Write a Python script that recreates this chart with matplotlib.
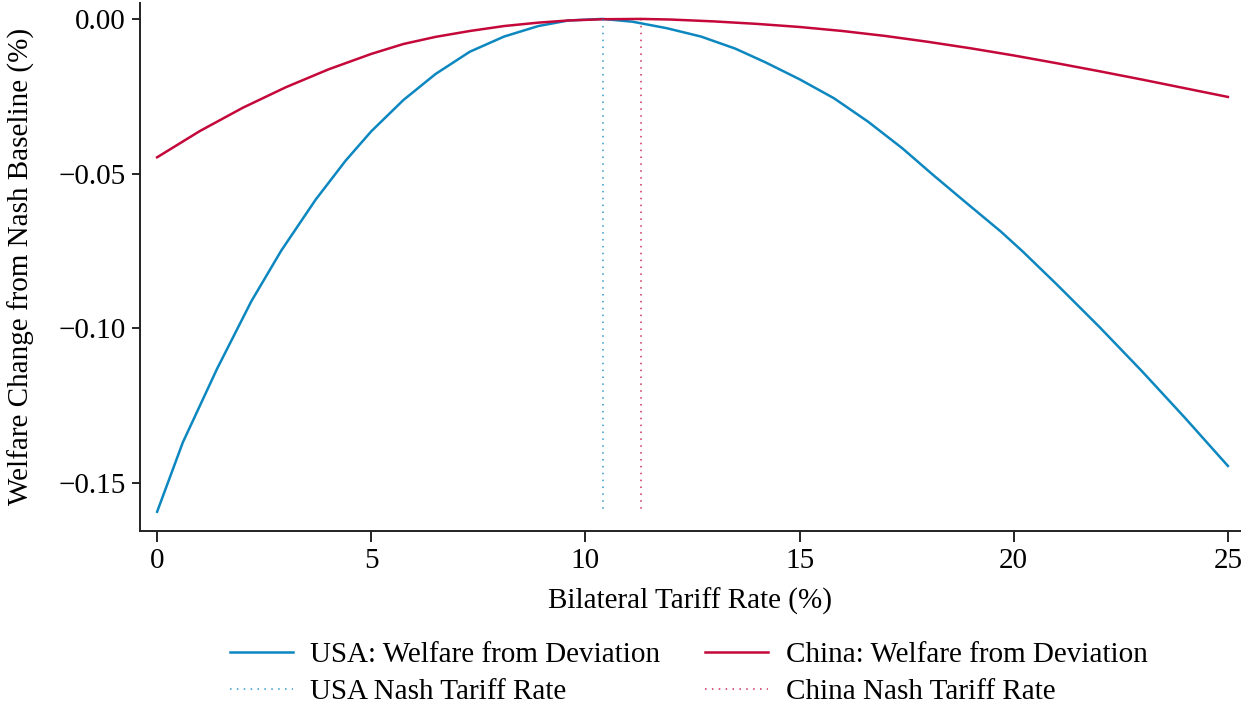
#! /usr/bin/env python3
"""
Welfare change from the Nash baseline when one country deviates
from the bilateral tariff rate (USA vs China).
"""
import matplotlib
matplotlib.use("Agg")
import matplotlib.pyplot as plt

# ---------------------------------------------------------------------------
# data

usa_tariff = [0.0, 0.6, 1.4, 2.2, 2.9, 3.7, 4.4, 5.0, 5.75, 6.5, 7.3, 8.1,
              8.9, 9.6, 10.4, 11.1, 11.9, 12.7, 13.5, 14.2, 15.0, 15.8,
              16.6, 17.4, 18.1, 18.9, 19.7, 20.2, 21.0, 22.0, 23.0, 24.0,
              25.0]
usa_welfare = [-0.1592, -0.1368, -0.1130, -0.0912, -0.0748, -0.0584,
               -0.0458, -0.0363, -0.0262, -0.0178, -0.0106, -0.0057,
               -0.0023, -0.0005, 0.0, -0.0009, -0.0030, -0.0057, -0.0096,
               -0.0140, -0.0195, -0.0256, -0.0332, -0.0418, -0.0502,
               -0.0595, -0.0687, -0.0750, -0.0857, -0.0995, -0.1139,
               -0.1289, -0.1444]

china_tariff = [0.0, 1.0, 2.0, 3.0, 4.0, 5.0, 5.75, 6.5, 7.3, 8.1, 8.9,
                9.6, 10.4, 11.3, 12.0, 13.0, 14.0, 15.0, 16.0, 17.0, 18.0,
                19.0, 20.0, 21.0, 22.0, 23.0, 24.0, 25.0]
china_welfare = [-0.0447, -0.0362, -0.0287, -0.0221, -0.0163, -0.0113,
                 -0.0081, -0.0058, -0.0039, -0.0023, -0.0012, -0.0005,
                 -0.0001, 0.0, -0.0002, -0.0008, -0.0016, -0.0026,
                 -0.0039, -0.0055, -0.0074, -0.0095, -0.0118, -0.0143,
                 -0.0169, -0.0196, -0.0224, -0.0252]

usa_nash = 10.4
china_nash = 11.3
nash_line_bottom = -0.159

x_ticks = [0, 5, 10, 15, 20, 25]
y_ticks = [0.0, -0.05, -0.10, -0.15]
y_tick_labels = ["0.00", "\u22120.05", "\u22120.10", "\u22120.15"]

labels = ["USA: Welfare from Deviation", "USA Nash Tariff Rate",
          "China: Welfare from Deviation", "China Nash Tariff Rate"]

USA_BLUE = "#0c87bf"
CHINA_RED = "#c4083a"

# ---------------------------------------------------------------------------
plt.rcParams["font.family"] = ["Liberation Serif", "DejaVu Serif"]
plt.rcParams["font.size"] = 21

fig = plt.figure(figsize=(12.41, 7.07), dpi=100)
ax = fig.add_axes([0.1128, 0.249, 0.887, 0.747])

usa_line, = ax.plot(usa_tariff, usa_welfare, color=USA_BLUE, lw=1.8,
                    solid_joinstyle="round")
china_line, = ax.plot(china_tariff, china_welfare, color=CHINA_RED, lw=1.8,
                      solid_joinstyle="round")

# nash tariff markers
usa_vline, = ax.plot([usa_nash, usa_nash], [0.0, nash_line_bottom],
                     color=USA_BLUE, lw=1.1, ls=(0, (1, 3.5)), alpha=0.85)
china_vline, = ax.plot([china_nash, china_nash], [0.0, nash_line_bottom],
                       color=CHINA_RED, lw=1.1, ls=(0, (1, 3.5)), alpha=0.85)

ax.set_xlim(-0.4, 25.3)
ax.set_ylim(-0.1654, 0.0052)

ax.set_xticks(x_ticks)
ax.set_yticks(y_ticks)
ax.set_yticklabels(y_tick_labels)

ax.spines["top"].set_visible(False)
ax.spines["right"].set_visible(False)
for side in ("left", "bottom"):
    ax.spines[side].set_linewidth(1.4)
    ax.spines[side].set_color("#222222")

ax.tick_params(axis="x", length=8, width=1.2, pad=4)
ax.tick_params(axis="y", length=6, width=1.2, pad=4)

ax.set_xlabel("Bilateral Tariff Rate (%)", labelpad=10)
ax.set_ylabel("Welfare Change from Nash Baseline (%)", labelpad=17)

fig.legend([usa_line, usa_vline, china_line, china_vline], labels,
           loc="upper center", bbox_to_anchor=(0.555, 0.13), ncol=2,
           frameon=False, handlelength=2.15, handletextpad=0.6,
           columnspacing=1.55, labelspacing=0.38)

fig.savefig("out.png", dpi=100)
